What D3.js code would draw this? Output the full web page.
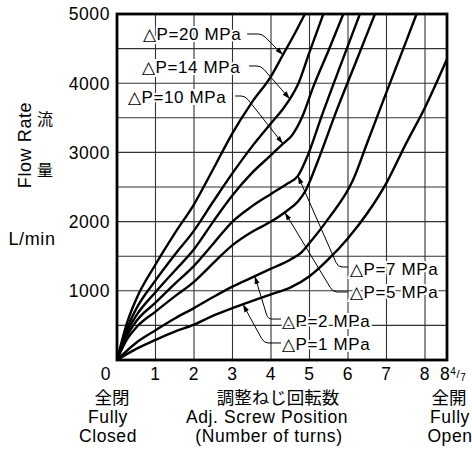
<!DOCTYPE html>
<html>
<head>
<meta charset="utf-8">
<script src="https://cdn.jsdelivr.net/npm/d3@7"></script>
<style>
body { margin: 0; background: #fff; }
svg { display: block; }
text { font-family: "Liberation Sans", Arial, sans-serif; fill: #000; letter-spacing: 0.6px; }
.cjk { font-family: "Noto Sans CJK JP", sans-serif; letter-spacing: 0; }
</style>
</head>
<body>
<svg id="chart" width="472" height="455"></svg>
<script>
// ---- data (turns of the adj. screw, flow rate L/min) ----
const xTicks = [1, 2, 3, 4, 5, 6, 7, 8];
const yTicks = [1000, 2000, 3000, 4000, 5000];
const yGrid = [500, 1000, 1500, 2000, 2500, 3000, 3500, 4000, 4500];
const xMax = 8 + 4 / 7;

const p20 = [[0,0],[0.25,520],[0.5,880],[1,1380],[1.5,1830],[2,2250],[2.5,2760],[3,3280],[3.5,3720],[4,4100],[4.3,4400],[4.6,4700],[4.88,5000]];
const p14 = [[0,0],[0.25,440],[0.5,740],[1,1150],[1.5,1520],[2,1870],[2.5,2290],[3,2700],[3.5,3080],[4,3420],[4.3,3620],[4.5,3780],[4.7,3980],[5,4450],[5.36,5000]];
const p10 = [[0,0],[0.25,390],[0.5,640],[1,980],[1.5,1290],[2,1600],[2.5,2000],[3,2380],[3.5,2700],[4,2960],[4.3,3120],[4.55,3250],[4.8,3500],[5.1,3950],[5.5,4480],[5.88,5000]];
const p7  = [[0,0],[0.25,340],[0.5,560],[1,830],[1.5,1100],[2,1360],[2.5,1680],[3,2000],[3.5,2220],[4,2400],[4.4,2540],[4.7,2660],[4.95,2950],[5.3,3500],[5.8,4250],[6.31,5000]];
const p5  = [[0,0],[0.25,290],[0.5,470],[1,700],[1.5,920],[2,1130],[2.5,1400],[3,1660],[3.5,1850],[4,2000],[4.4,2150],[4.7,2290],[4.9,2450],[5.2,2850],[5.7,3600],[6.2,4300],[6.7,5000]];
const p2  = [[0,0],[0.5,250],[1,430],[1.5,600],[2,750],[2.5,910],[3,1060],[3.5,1190],[4,1320],[4.5,1450],[4.8,1560],[5,1690],[5.5,2050],[6.13,2600],[6.5,3140],[7,3870],[7.5,4590],[7.78,5000]];
const p1  = [[0,0],[0.5,160],[1,290],[1.5,410],[2,510],[2.5,640],[3,750],[3.5,850],[4,950],[4.5,1045],[5,1210],[5.5,1460],[6,1760],[6.5,2120],[7,2560],[7.5,3120],[8,3650],[xMax,4350]];

const curves = [
  {name: "20", pts: p20},
  {name: "14", pts: p14},
  {name: "10", pts: p10},
  {name: "7",  pts: p7},
  {name: "5",  pts: p5},
  {name: "2",  pts: p2},
  {name: "1",  pts: p1}
];

// label placement (data units): text anchor, leader start, elbow, arrow tip x
const notes = [
  {name: "20", tx: 0.675, ty: 4624, sx: 3.38, ey: 4711, ex: 3.77, tip: 4.31},
  {name: "14", tx: 0.649, ty: 4147, sx: 3.43, ey: 4249, ex: 3.74, tip: 4.49},
  {name: "10", tx: 0.286, ty: 3714, sx: 3.07, ey: 3815, ex: 3.33, tip: 4.31},
  {name: "7",  tx: 6.052, ty: 1228, sx: 6.0,  ey: 1344, ex: 5.74, tip: 4.70},
  {name: "5",  tx: 6.052, ty: 896,  sx: 6.0,  ey: 983,  ex: 5.61, tip: 4.36},
  {name: "2",  tx: 4.286, ty: 477,  sx: 4.26, ey: 592,  ex: 3.92, tip: 3.58},
  {name: "1",  tx: 4.286, ty: 145,  sx: 4.26, ey: 246,  ex: 3.82, tip: 3.27}
];

const svg = d3.select("#chart");
const x = d3.scaleLinear().domain([0, xMax]).range([117, 447]);
const y = d3.scaleLinear().domain([0, 5000]).range([360, 14]);

const defs = svg.append("defs");
defs.append("marker")
  .attr("id", "arr")
  .attr("viewBox", "0 0 10 10")
  .attr("refX", 10).attr("refY", 5)
  .attr("markerWidth", 8).attr("markerHeight", 8)
  .attr("markerUnits", "userSpaceOnUse")
  .attr("orient", "auto")
  .append("path").attr("d", "M0,1.8L10,5L0,8.2Z").attr("fill", "#000");

// grid
const grid = svg.append("g").attr("stroke", "#333").attr("stroke-width", 1.1);
grid.selectAll(".vx").data(xTicks).enter().append("line")
  .attr("x1", d => x(d)).attr("x2", d => x(d))
  .attr("y1", y(0)).attr("y2", y(5000));
grid.selectAll(".hy").data(yGrid).enter().append("line")
  .attr("x1", x(0)).attr("x2", x(xMax))
  .attr("y1", d => y(d)).attr("y2", d => y(d));

// labels (white halo breaks the grid like the original)
const notesG = svg.append("g");
notesG.selectAll("text").data(notes).enter().append("text")
  .attr("x", d => x(d.tx)).attr("y", d => y(d.ty))
  .attr("font-size", 17)
  .attr("stroke", "#fff").attr("stroke-width", 4).attr("paint-order", "stroke")
  .text(d => "\u25B3P=" + d.name + " MPa");

// curves
const line = d3.line().x(d => x(d[0])).y(d => y(d[1])).curve(d3.curveMonotoneX);
const paths = {};
svg.append("g").selectAll("path").data(curves).enter().append("path")
  .attr("d", d => line(d.pts))
  .attr("fill", "none").attr("stroke", "#000").attr("stroke-width", 2.4)
  .each(function(d) { paths[d.name] = this; });

// find the point on a curve at a given x (turns)
function pointAtX(node, xv) {
  const px = x(xv);
  let lo = 0, hi = node.getTotalLength();
  for (let i = 0; i < 40; i++) {
    const mid = (lo + hi) / 2;
    if (node.getPointAtLength(mid).x < px) lo = mid; else hi = mid;
  }
  return node.getPointAtLength(lo);
}

// leaders with a rounded elbow
svg.append("g").selectAll("path").data(notes).enter().append("path")
  .attr("d", d => {
    const t = pointAtX(paths[d.name], d.tip);
    const s = [x(d.sx), y(d.ey)], e = [x(d.ex), y(d.ey)];
    const dir = Math.sign(s[0] - e[0]);
    const a = [e[0] + dir * 4, e[1]];
    const len = Math.hypot(t.x - e[0], t.y - e[1]);
    const b = [e[0] + (t.x - e[0]) * 5 / len, e[1] + (t.y - e[1]) * 5 / len];
    const p = d3.path();
    p.moveTo(s[0], s[1]);
    p.lineTo(a[0], a[1]);
    p.quadraticCurveTo(e[0], e[1], b[0], b[1]);
    p.lineTo(t.x, t.y);
    return p.toString();
  })
  .attr("fill", "none").attr("stroke", "#000").attr("stroke-width", 1)
  .attr("marker-end", "url(#arr)");

// frame
svg.append("rect")
  .attr("x", x(0)).attr("y", y(5000))
  .attr("width", x(xMax) - x(0)).attr("height", y(0) - y(5000))
  .attr("fill", "none").attr("stroke", "#000").attr("stroke-width", 2.8);

// y tick labels
svg.append("g").selectAll("text").data(yTicks).enter().append("text")
  .attr("x", x(0) - 7).attr("y", d => y(d)).attr("dy", "0.36em")
  .attr("text-anchor", "end").attr("font-size", 17.5)
  .text(d => d);
svg.append("text").attr("x", x(0) - 11).attr("y", y(0) + 20)
  .attr("text-anchor", "middle").attr("font-size", 17.5).text("0");

// x tick labels
svg.append("g").selectAll("text").data(xTicks).enter().append("text")
  .attr("x", d => x(d)).attr("y", y(0) + 20)
  .attr("text-anchor", "middle").attr("font-size", 17.5)
  .text(d => d);
const last = svg.append("text").attr("x", x(xMax) - 7).attr("y", y(0) + 20).attr("font-size", 17.5);
last.append("tspan").text("8");
last.append("tspan").attr("font-size", 10).attr("dy", -5).text("4");
last.append("tspan").attr("font-size", 11).attr("dy", 3).text("/");
last.append("tspan").attr("font-size", 10).attr("dy", 3).text("7");

// y axis title
svg.append("text").attr("transform", "translate(31,145) rotate(-90)")
  .attr("text-anchor", "middle").attr("font-size", 18).text("Flow Rate");
svg.append("text").attr("class", "cjk").attr("x", 45).attr("y", 125)
  .attr("text-anchor", "middle").attr("font-size", 16).text("流");
svg.append("text").attr("class", "cjk").attr("x", 45).attr("y", 176)
  .attr("text-anchor", "middle").attr("font-size", 16).text("量");
svg.append("text").attr("x", 32).attr("y", 245)
  .attr("text-anchor", "middle").attr("font-size", 18).text("L/min");

// x axis titles
const bottom = [
  {t: "全閉", cx: 112, by: 404, cjk: true},
  {t: "Fully", cx: 108, by: 423},
  {t: "Closed", cx: 108, by: 442},
  {t: "調整ねじ回転数", cx: 278, by: 404, cjk: true},
  {t: "Adj. Screw Position", cx: 267, by: 423},
  {t: "(Number of turns)", cx: 269, by: 442},
  {t: "全開", cx: 449, by: 404, cjk: true},
  {t: "Fully", cx: 450, by: 423},
  {t: "Open", cx: 450, by: 442}
];
svg.append("g").selectAll("text").data(bottom).enter().append("text")
  .attr("class", d => d.cjk ? "cjk" : null)
  .attr("x", d => d.cx).attr("y", d => d.by)
  .attr("text-anchor", "middle").attr("font-size", 17.5)
  .text(d => d.t);
</script>
</body>
</html>
